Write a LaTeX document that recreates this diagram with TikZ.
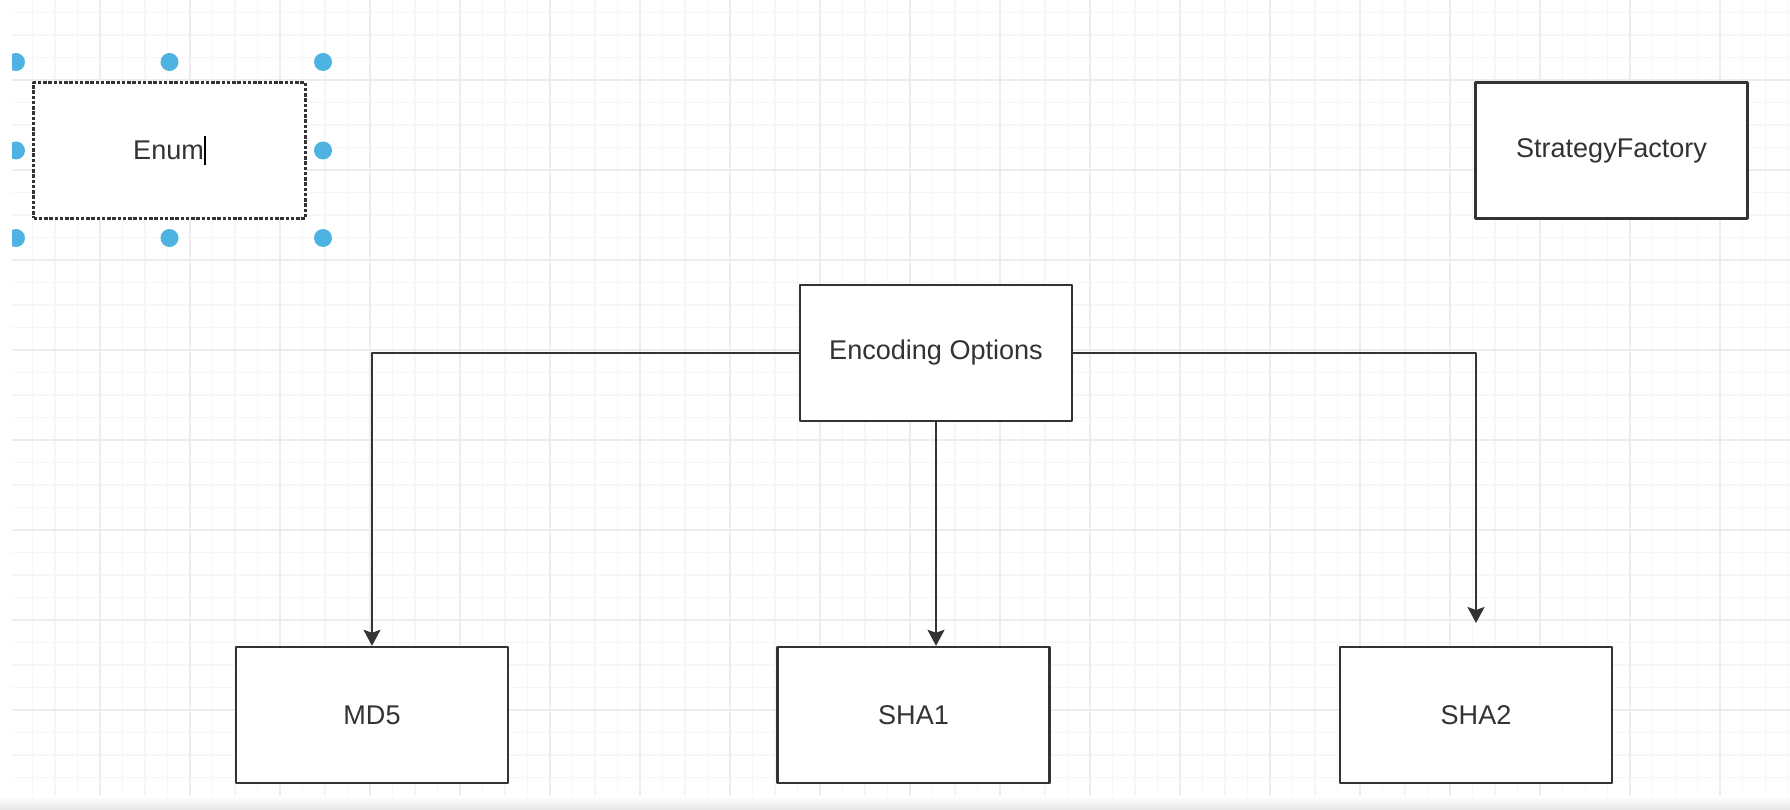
\documentclass[tikz,border=0pt]{standalone}
\usepackage{fontspec}
\setmainfont{Liberation Sans}
\usetikzlibrary{arrows.meta}
\definecolor{ink}{RGB}{51,51,51}
\definecolor{handle}{RGB}{79,179,226}
\begin{document}
\begin{tikzpicture}[x=0.02cm, y=-0.02cm, line join=round, >={Stealth[width=0.34cm,length=0.32cm,inset=0.06cm]},
	box/.style={draw=ink, line width=1.4pt, fill=white, text=ink, minimum width=5.44cm, minimum height=2.72cm, font=\fontsize{15.4}{18}\selectfont},
	link/.style={draw=ink, line width=1.3pt, ->},
	gridmin/.style={draw=black!3.5, line width=0.6pt},
	gridmaj/.style={draw=black!7, line width=0.9pt}]
	\useasboundingbox (0,0) rectangle (1790,810);
	\fill[white] (0,0) rectangle (1790,810);
	% canvas grid
	\begin{scope}
		\clip (12,0) rectangle (1790,810);
		\foreach \i in {0,...,80} \draw[gridmin] ({-12.5+22.5*\i},0) -- ++(0,810);
		\foreach \j in {0,...,36} \draw[gridmin] (0,{-10+22.5*\j}) -- ++(1790,0);
		\foreach \gx in {10,100,...,1780} \draw[gridmaj] (\gx,0) -- ++(0,810);
		\foreach \gy in {-10,80,...,800} \draw[gridmaj] (0,\gy) -- ++(1790,0);
		% selection handles
		\foreach \hx/\hy in {16/62,169.5/62,323/62,16/150.5,323/150.5,16/238,169.5/238,323/238}
			\fill[handle] (\hx,\hy) circle[radius=0.18cm];
	\end{scope}
	\shade[top color=white, bottom color=black!10] (0,796) rectangle (1790,810);
	% boxes
	\node[box, dash pattern=on 0.07cm off 0.035cm, line width=1.2pt] (enum) at (169.5,150.5) {Enum\textcolor{black}{\rule[-0.18em]{0.07em}{1.05em}}};
	\node[box] (factory) at (1611.5,150.5) {StrategyFactory};
	\node[box] (options) at (936,353) {Encoding Options};
	\node[box] (md5) at (372,715) {MD5};
	\node[box] (sha1) at (913.5,715) {SHA1};
	\node[box] (sha2) at (1476,715) {SHA2};
	% connectors
	\coordinate (sha2end) at (1476,623);
	\draw[link] (options.west) -| (md5.north);
	\draw[link] (options.south) -- (options.south |- sha1.north);
	\draw[link] (options.east) -| (sha2end);
\end{tikzpicture}
\end{document}
